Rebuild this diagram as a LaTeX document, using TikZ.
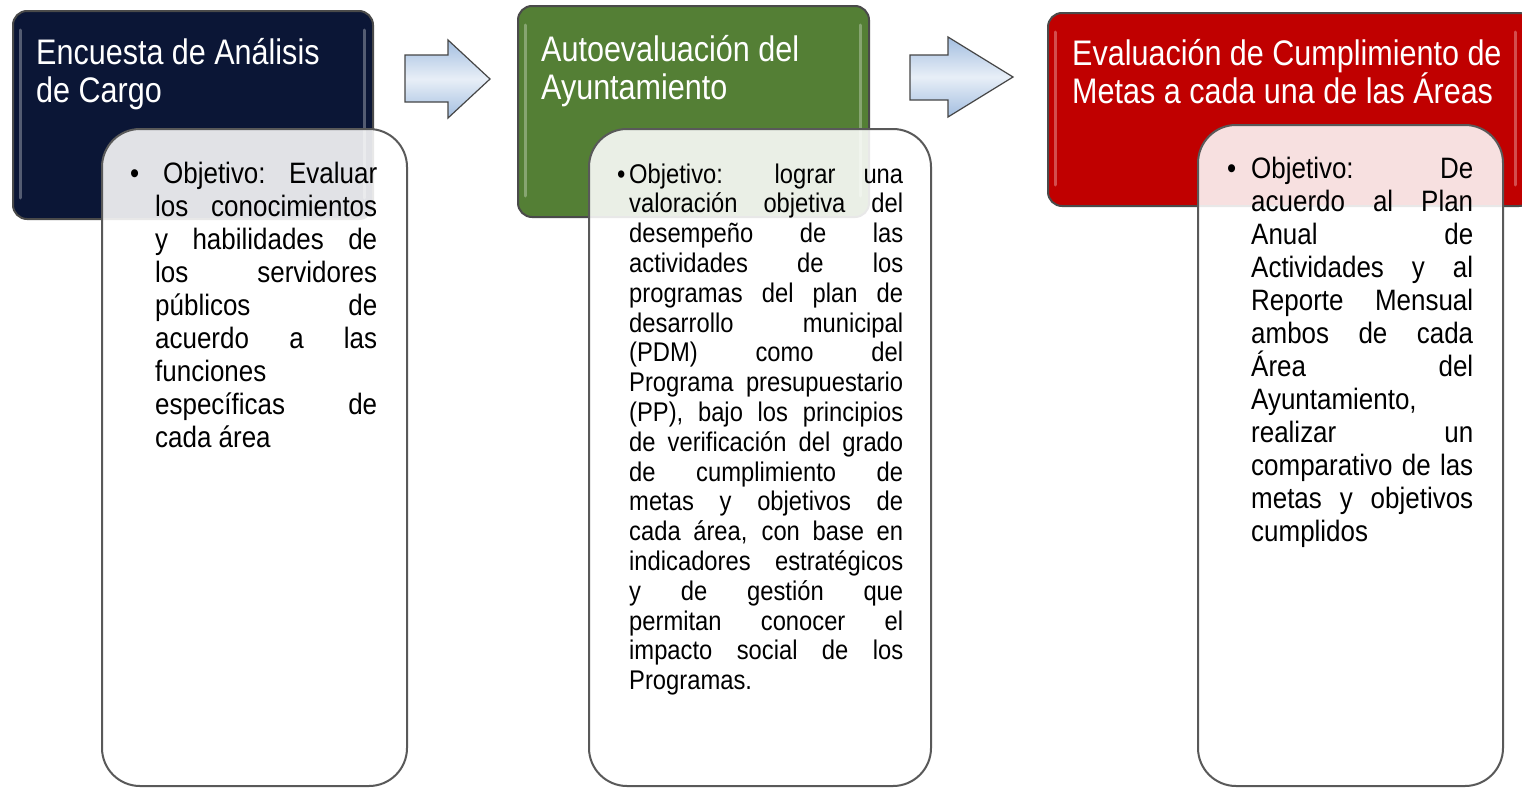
\documentclass[tikz,border=0pt]{standalone}
\usepackage{fontspec}
\setmainfont{Liberation Sans}[FakeStretch=0.86]
\newfontfamily\bodyf{Liberation Sans}[FakeStretch=0.88]
\definecolor{navy}{HTML}{0B1636}
\definecolor{grn}{HTML}{547F35}
\definecolor{hred}{HTML}{C00000}
\definecolor{edge}{HTML}{4A4A4A}
\definecolor{arrowfill}{HTML}{A3BEE0}
\newdimen\jw
\newcommand\jl[1]{\hbox to \jw{#1}}
\newcommand\lines[1]{\vtop{\lineskiplimit=-100pt\lineskip=0pt #1}}
\begin{document}
\begin{tikzpicture}[x=1pt,y=-1pt,
  hdr/.style={draw=edge, line width=2pt, rounded corners=14pt, inner sep=0, anchor=north west},
  det/.style={draw=gray!70!black, line width=2pt, rounded corners=38pt, fill=white, fill opacity=0.88, inner sep=0, anchor=north west},
  gloss/.style={white, opacity=0.3, line width=3pt, line cap=round},
  barrow/.style={draw=gray!55!black, line width=1.2pt, top color=arrowfill, bottom color=arrowfill, middle color=arrowfill!25},
  htext/.style={inner sep=0, anchor=base west, text=white, font=\fontsize{35.5}{38}\selectfont},
  btext/.style={inner sep=0, anchor=base west, text=black},
  bfont/.style={font=\bodyf\fontsize{29.5}{33}\selectfont},
  sfont/.style={font=\bodyf\fontsize{27}{29.8}\selectfont}
]
\useasboundingbox (0,0) rectangle (1522,787);
\fill[white] (0,0) rectangle (1522,787);

% header boxes
\node[hdr, fill=navy, minimum width=360pt, minimum height=208pt] (h1) at (12,10) {};
\node[hdr, fill=grn, minimum width=351pt, minimum height=211pt] (h2) at (517,5) {};
\node[hdr, fill=hred, minimum width=485pt, minimum height=193pt] (h3) at (1047,12) {};

% glossy edge highlights
\draw[gloss] (20,30) -- (20,198);
\draw[gloss] (364,30) -- (364,198);
\draw[gloss] (525,25) -- (525,196);
\draw[gloss] (860,25) -- (860,196);
\draw[gloss] (1055,32) -- (1055,185);
\draw[gloss] (1515,32) -- (1515,185);

% block arrows
\draw[barrow] (405,55) -- (448,55) -- (448,40) -- (490,79) -- (448,118) -- (448,102) -- (405,102) -- cycle;
\draw[barrow] (910,55) -- (948,55) -- (948,37) -- (1013,77) -- (948,117) -- (948,100) -- (910,100) -- cycle;

% header titles
\node[htext] (h1t) at (36,64) {\lines{\hbox{Encuesta de Análisis}\hbox{de Cargo}}};
\node[htext] (h2t) at (541,61) {\lines{\hbox{Autoevaluación del}\hbox{Ayuntamiento}}};
\node[htext] (h3t) at (1072,65) {\lines{\hbox{Evaluación de Cumplimiento de}\hbox{Metas a cada una de las Áreas}}};

% detail boxes
\node[det, minimum width=305pt, minimum height=657pt] (d1) at (101,128) {};
\node[det, minimum width=342pt, minimum height=657pt] (d2) at (588,128) {};
\node[det, minimum width=305pt, minimum height=661pt] (d3) at (1197,124) {};

% bullets
\node[btext, bfont] (b1) at (130,183) {•};
\node[btext, sfont] (b2) at (617,183) {•};
\node[btext, bfont] (b3) at (1227,178) {•};

% body texts
\node[btext, bfont] (t1) at (155,183) {\lines{\jw=222pt
  \jl{\hskip 8pt Objetivo: Evaluar}
  \jl{los conocimientos}
  \jl{y habilidades de}
  \jl{los servidores}
  \jl{públicos de}
  \jl{acuerdo a las}
  \hbox{funciones}
  \jl{específicas de}
  \hbox{cada área}}};

\node[btext, sfont] (t2) at (629,183) {\lines{\jw=274pt
  \jl{Objetivo: lograr una}
  \jl{valoración objetiva del}
  \jl{desempeño de las}
  \jl{actividades de los}
  \jl{programas del plan de}
  \jl{desarrollo municipal}
  \jl{(PDM) como del}
  \jl{Programa presupuestario}
  \jl{(PP), bajo los principios}
  \jl{de verificación del grado}
  \jl{de cumplimiento de}
  \jl{metas y objetivos de}
  \jl{cada área, con base en}
  \jl{indicadores estratégicos}
  \jl{y de gestión que}
  \jl{permitan conocer el}
  \jl{impacto social de los}
  \hbox{Programas.}}};

\node[btext, bfont] (t3) at (1251,178) {\lines{\jw=222pt
  \jl{Objetivo: De}
  \jl{acuerdo al Plan}
  \jl{Anual de}
  \jl{Actividades y al}
  \jl{Reporte Mensual}
  \jl{ambos de cada}
  \jl{Área del}
  \hbox{Ayuntamiento,}
  \jl{realizar un}
  \jl{comparativo de las}
  \jl{metas y objetivos}
  \hbox{cumplidos}}};
\end{tikzpicture}
\end{document}
